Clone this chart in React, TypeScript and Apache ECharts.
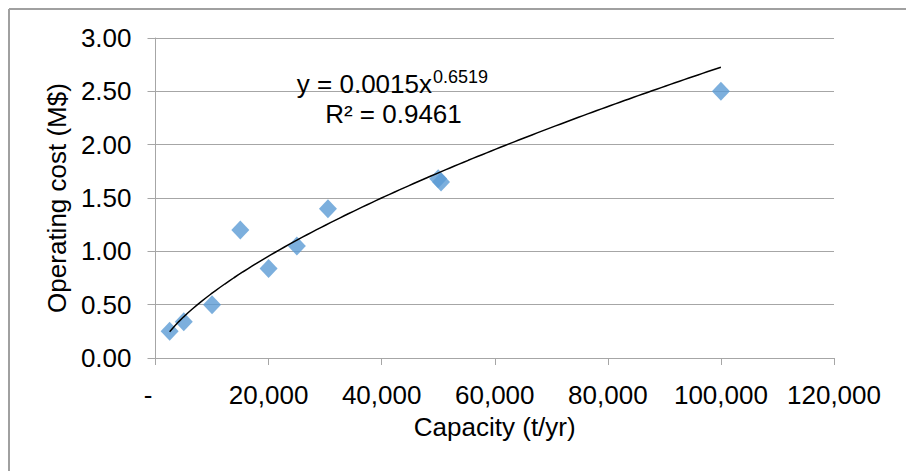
import React, { useEffect, useRef } from "react";
import * as echarts from "echarts";

const capacity = [2500, 5000, 10000, 15000, 20000, 25000, 30500, 50000, 50500, 100000];
const operatingCost = [0.25, 0.34, 0.5, 1.2, 0.84, 1.05, 1.4, 1.68, 1.65, 2.5];

const xTicks = [0, 20000, 40000, 60000, 80000, 100000, 120000];
const yTicks = [0, 0.5, 1, 1.5, 2, 2.5, 3];

// Power trendline shown on the chart: y = 0.0015 x^0.6519, R² = 0.9461
const TREND_A = 0.0015;
const TREND_B = 0.6519;
const TREND_LABEL_MAIN = "y = 0.0015x";
const TREND_LABEL_EXP = "0.6519";
const TREND_LABEL_R2 = "R² = 0.9461";

const FONT = "'Liberation Sans', Arial, sans-serif";
const GRAY = "#a6a6a6";

export default function App() {
  const ref = useRef<HTMLDivElement>(null);

  useEffect(() => {
    if (!ref.current) return;
    const chart = echarts.init(ref.current, undefined, { renderer: "svg" });

    const xMin = Math.min(...capacity);
    const xMax = Math.max(...capacity);
    const trend: number[][] = [];
    const steps = 120;
    for (let i = 0; i <= steps; i++) {
      const x = xMin + ((xMax - xMin) * i) / steps;
      trend.push([x, TREND_A * Math.pow(x, TREND_B)]);
    }

    chart.setOption({
      animation: false,
      backgroundColor: "#ffffff",
      textStyle: { fontFamily: FONT },
      grid: { left: 155.5, right: 72, top: 38, bottom: 113, containLabel: false },
      xAxis: {
        type: "value",
        min: xTicks[0],
        max: xTicks[xTicks.length - 1],
        interval: xTicks[1] - xTicks[0],
        name: "Capacity (t/yr)",
        nameLocation: "middle",
        nameGap: 56,
        nameTextStyle: { fontSize: 26, color: "#000", fontFamily: FONT },
        axisLine: { show: true, lineStyle: { color: GRAY, width: 1 } },
        axisTick: { show: true, length: 7, lineStyle: { color: GRAY } },
        splitLine: { show: false },
        axisLabel: {
          fontSize: 26,
          color: "#000",
          fontFamily: FONT,
          margin: 24,
          formatter: (v: number) => (v === 0 ? "{d|-}" : v.toLocaleString("en-US")),
          rich: { d: { fontSize: 26, color: "#000", fontFamily: FONT, padding: [0, 15, 0, 0] } },
        },
      },
      yAxis: {
        type: "value",
        min: yTicks[0],
        max: yTicks[yTicks.length - 1],
        interval: yTicks[1] - yTicks[0],
        name: "Operating cost (M$)",
        nameLocation: "middle",
        nameRotate: 90,
        nameGap: 84,
        nameTextStyle: { fontSize: 26, color: "#000", fontFamily: FONT },
        axisLine: { show: true, lineStyle: { color: GRAY, width: 1 } },
        axisTick: { show: true, length: 8, lineStyle: { color: GRAY } },
        splitLine: { show: true, lineStyle: { color: GRAY, width: 1 } },
        axisLabel: {
          fontSize: 26,
          color: "#000",
          fontFamily: FONT,
          margin: 24,
          formatter: (v: number) => v.toFixed(2),
        },
      },
      series: [
        {
          type: "scatter",
          data: capacity.map((c, i) => [c, operatingCost[i]]),
          symbol: "diamond",
          symbolSize: [18, 19],
          itemStyle: { color: "#5b9bd5" },
          z: 2,
        },
        {
          type: "line",
          data: trend,
          showSymbol: false,
          symbol: "none",
          smooth: false,
          lineStyle: { color: "#000", width: 1.5 },
          z: 3,
        },
      ],
      graphic: [
        {
          type: "line",
          shape: { x1: 9, y1: 9, x2: 906, y2: 9 },
          style: { stroke: "#a0a0a0", lineWidth: 2 },
        },
        {
          type: "line",
          shape: { x1: 9, y1: 9, x2: 9, y2: 471 },
          style: { stroke: "#a0a0a0", lineWidth: 2 },
        },
        {
          type: "text",
          x: 432,
          y: 84,
          style: {
            text: TREND_LABEL_MAIN,
            fontSize: 26,
            fontFamily: FONT,
            fill: "#000",
            align: "right",
            verticalAlign: "middle",
          },
          z: 10,
        },
        {
          type: "text",
          x: 433,
          y: 77,
          style: {
            text: TREND_LABEL_EXP,
            fontSize: 18,
            fontFamily: FONT,
            fill: "#000",
            align: "left",
            verticalAlign: "middle",
          },
          z: 10,
        },
        {
          type: "text",
          x: 393.5,
          y: 114,
          style: {
            text: TREND_LABEL_R2,
            fontSize: 26,
            fontFamily: FONT,
            fill: "#000",
            align: "center",
            verticalAlign: "middle",
          },
          z: 10,
        },
      ],
    });

    return () => chart.dispose();
  }, []);

  return (
    <div
      ref={ref}
      style={{ position: "absolute", left: 0, top: 0, width: 906, height: 471 }}
    />
  );
}
